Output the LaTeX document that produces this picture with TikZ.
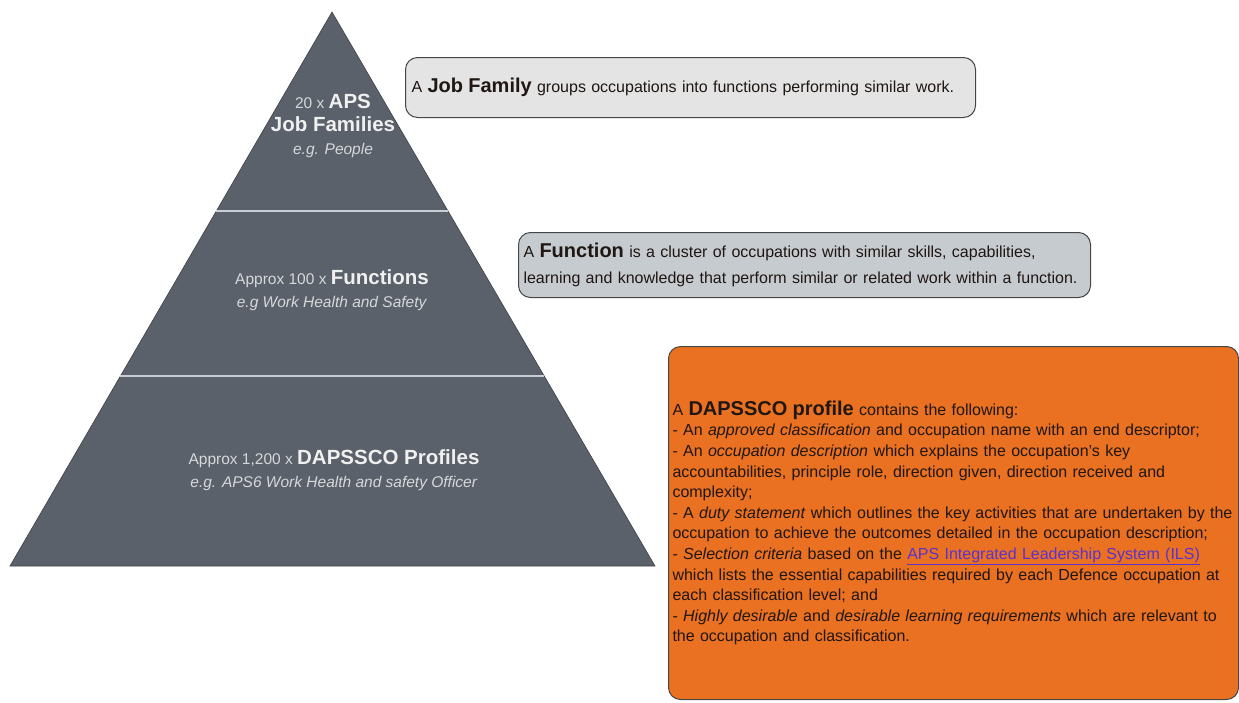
\documentclass[tikz,border=0pt]{standalone}
\usepackage{fontspec}
\setmainfont{Liberation Sans}
\usepackage{tikz}

\definecolor{slate}{RGB}{90,97,106}
\definecolor{bandline}{RGB}{200,206,212}
\definecolor{paleface}{RGB}{228,228,228}
\definecolor{bluegrey}{RGB}{198,203,208}
\definecolor{dapsorange}{RGB}{233,113,33}
\definecolor{boxedge}{RGB}{70,70,70}
\definecolor{inktext}{RGB}{32,22,18}
\definecolor{linkpurple}{RGB}{92,50,205}
\definecolor{softwhite}{RGB}{240,240,240}
\definecolor{dimwhite}{RGB}{214,216,218}

\newcommand{\keyterm}[1]{{\fontsize{20}{20}\selectfont\bfseries #1}}
\newcommand{\tierterm}[1]{{\fontsize{20.5}{20}\selectfont\bfseries\color{softwhite}#1}}

\begin{document}
\begin{tikzpicture}[x=1pt,y=-1pt,
    infobox/.style={draw=boxedge, line width=1pt, rounded corners=12pt, anchor=north west,
                    align=left, inner ysep=0pt, text=inktext},
    tiertext/.style={text=dimwhite, align=center, font=\fontsize{15.5}{23}\selectfont}]
        \useasboundingbox (0,0) rectangle (1239,702);
        % pyramid
        \coordinate (apex) at (332,12);
        \coordinate (baseL) at (10,566);
        \coordinate (baseR) at (655,566);
        \fill[slate, draw=black!75, line width=0.6pt] (apex) -- (baseL) -- (baseR) -- cycle;
        \foreach \yband in {211,376} {
            \pgfmathsetmacro{\share}{(\yband-12)/554}
            \pgfmathsetmacro{\xleft}{332-322*\share}
            \pgfmathsetmacro{\xright}{332+323*\share}
            \draw[bandline, line width=1.5pt] (\xleft,\yband) -- (\xright,\yband);
        }
        \node[tiertext] (tierfamily) at (333,126)
            {20 x \tierterm{APS}\\ \tierterm{Job Families}\\ \textit{e.g. People}};
        \node[tiertext] (tierfunction) at (332,290)
            {Approx 100 x \tierterm{Functions}\\ \textit{e.g Work Health and Safety}};
        \node[tiertext] (tierprofile) at (334,470)
            {Approx 1,200 x \tierterm{DAPSSCO Profiles}\\ \textit{e.g. APS6 Work Health and safety Officer}};
        % descriptions
        \node[infobox, fill=paleface, text width=558pt, inner xsep=6pt, minimum height=60pt,
              font=\fontsize{16}{20}\selectfont] (familybox) at (405,57)
            {A \keyterm{Job Family} groups occupations into functions performing similar work.};
        \node[infobox, fill=bluegrey, text width=562pt, inner xsep=5pt, minimum height=65pt,
              font=\fontsize{16}{26}\selectfont] (functionbox) at (518,232)
            {A \keyterm{Function} is a cluster of occupations with similar skills, capabilities,\\
             learning and knowledge that perform similar or related work within a function.};
        \node[infobox, fill=dapsorange, text width=562pt, inner xsep=4pt, minimum height=353pt,
              font=\fontsize{16}{20.6}\selectfont] (profilebox) at (668,346)
            {A \keyterm{DAPSSCO profile} contains the following:\\
             - An \textit{approved classification} and occupation name with an end descriptor;\\
             - An \textit{occupation description} which explains the occupation’s key\\
             accountabilities, principle role, direction given, direction received and\\
             complexity;\\
             - A \textit{duty statement} which outlines the key activities that are undertaken by the\\
             occupation to achieve the outcomes detailed in the occupation description;\\
             - \textit{Selection criteria} based on the \textcolor{linkpurple}{\underline{APS Integrated Leadership System (ILS)}}\\
             which lists the essential capabilities required by each Defence occupation at\\
             each classification level; and\\
             - \textit{Highly desirable} and \textit{desirable learning requirements} which are relevant to\\
             the occupation and classification.};
    \end{tikzpicture}
\end{document}
